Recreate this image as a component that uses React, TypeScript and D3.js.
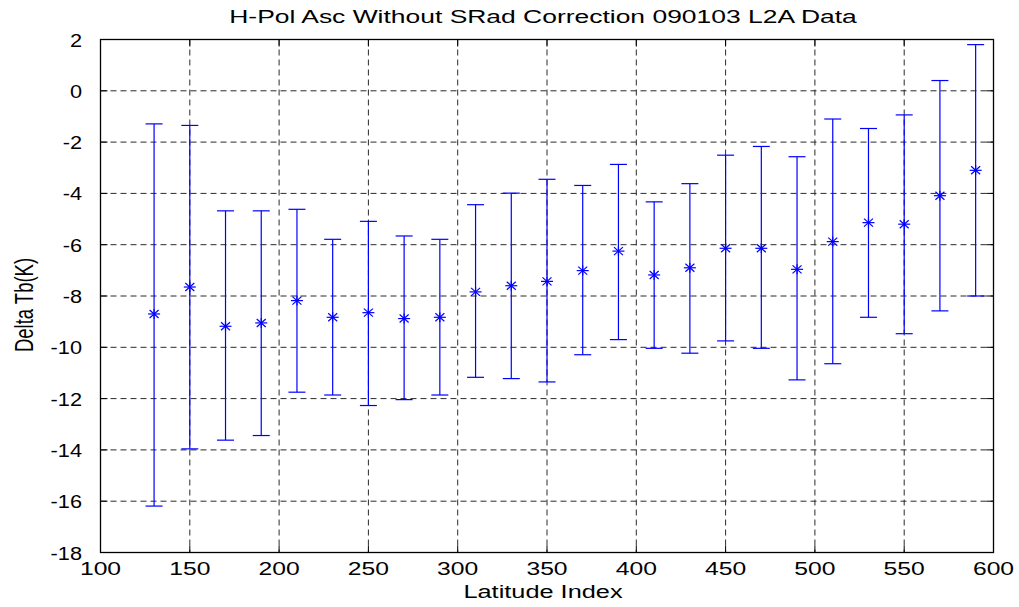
import React from "react";
import * as d3 from "d3";

const latIndex = [130, 150, 170, 190, 210, 230, 250, 270, 290, 310, 330, 350, 370, 390, 410, 430, 450, 470, 490, 510, 530, 550, 570, 590];
const meanVals = [-8.7, -7.65, -9.18, -9.05, -8.18, -8.83, -8.65, -8.88, -8.83, -7.84, -7.6, -7.43, -7.01, -6.25, -7.18, -6.9, -6.14, -6.14, -6.96, -5.88, -5.14, -5.2, -4.09, -3.1];
const upperVals = [-1.29, -1.35, -4.68, -4.68, -4.62, -5.79, -5.09, -5.66, -5.79, -4.44, -3.99, -3.45, -3.69, -2.87, -4.33, -3.62, -2.51, -2.17, -2.57, -1.1, -1.47, -0.94, 0.4, 1.8];
const lowerVals = [-16.19, -13.96, -13.62, -13.44, -11.75, -11.86, -12.27, -12.04, -11.86, -11.17, -11.22, -11.35, -10.29, -9.7, -10.04, -10.23, -9.75, -10.04, -11.27, -10.64, -8.83, -9.47, -8.58, -8.0];
const xTicks = [100, 150, 200, 250, 300, 350, 400, 450, 500, 550, 600];
const yTicks = [2, 0, -2, -4, -6, -8, -10, -12, -14, -16, -18];

const W = 1019, H = 607;
const left = 100.5, right = 993.5, top = 39.5, bottom = 552.5;
const FONT = "'Liberation Sans', Arial, sans-serif";
const FS = 19;
const SX = 1.3;

export default function App() {
  const x = d3.scaleLinear().domain([100, 600]).range([left, right]);
  const y = d3.scaleLinear().domain([-18, 2]).range([bottom, top]);
  const cap = 8.5;
  const blue = "#0000ff";
  const tl = 7;

  return (
    <svg width={W} height={H} style={{ position: "absolute", left: 0, top: 0, background: "#fff" }}>
      <rect x={0} y={0} width={W} height={H} fill="#fff" />
      {/* grid */}
      <g stroke="#2a2a2a" strokeWidth={1} strokeDasharray="6,4" fill="none">
        {xTicks.slice(1, -1).map((t) => (
          <line key={"gx" + t} x1={x(t)} x2={x(t)} y1={top} y2={bottom} />
        ))}
        {yTicks.slice(1, -1).map((t) => (
          <line key={"gy" + t} x1={left} x2={right} y1={y(t)} y2={y(t)} />
        ))}
      </g>
      {/* ticks */}
      <g stroke="#000" strokeWidth={1}>
        {xTicks.map((t) => (
          <g key={"tx" + t}>
            <line x1={x(t)} x2={x(t)} y1={bottom} y2={bottom - tl} />
            <line x1={x(t)} x2={x(t)} y1={top} y2={top + tl} />
          </g>
        ))}
        {yTicks.map((t) => (
          <g key={"ty" + t}>
            <line x1={left} x2={left + tl} y1={y(t)} y2={y(t)} />
            <line x1={right} x2={right - tl} y1={y(t)} y2={y(t)} />
          </g>
        ))}
      </g>
      {/* error bars */}
      <g stroke={blue} strokeWidth={1.2} fill="none">
        {latIndex.map((li, i) => {
          const cx = x(li);
          const yu = y(upperVals[i]);
          const yl = y(lowerVals[i]);
          const ym = y(meanVals[i]);
          return (
            <g key={"eb" + li}>
              <line x1={cx} x2={cx} y1={yu} y2={yl} />
              <line x1={cx - cap} x2={cx + cap} y1={yu} y2={yu} />
              <line x1={cx - cap} x2={cx + cap} y1={yl} y2={yl} />
              <line x1={cx - 6} x2={cx + 6} y1={ym} y2={ym} />
              <line x1={cx - 4.5} x2={cx + 4.5} y1={ym - 4} y2={ym + 4} />
              <line x1={cx - 4.5} x2={cx + 4.5} y1={ym + 4} y2={ym - 4} />
              <line x1={cx} x2={cx} y1={ym - 5} y2={ym + 5} />
            </g>
          );
        })}
      </g>
      {/* axis box */}
      <rect x={left} y={top} width={right - left} height={bottom - top} fill="none" stroke="#000" strokeWidth={1.3} />
      {/* tick labels */}
      <g fontFamily={FONT} fontSize={FS} fill="#000">
        {xTicks.map((t) => (
          <text key={"lx" + t} transform={`translate(${x(t)},${575}) scale(${SX},1)`} textAnchor="middle">
            {t}
          </text>
        ))}
        {yTicks.map((t) => (
          <text key={"ly" + t} transform={`translate(${82},${y(t) + 7}) scale(${SX * 0.88},1)`} textAnchor="end">
            {t}
          </text>
        ))}
      </g>
      {/* title */}
      <text transform={`translate(${543},${23}) scale(1.43,1)`} textAnchor="middle" fontFamily={FONT} fontSize={18.5}>
        H-Pol Asc Without SRad Correction 090103 L2A Data
      </text>
      {/* x label */}
      <text transform={`translate(${543},${598}) scale(1.37,1)`} textAnchor="middle" fontFamily={FONT} fontSize={18.5}>
        Latitude Index
      </text>
      {/* y label */}
      <text transform={`translate(${33},${305}) scale(1.35,1) rotate(-90)`} textAnchor="middle" fontFamily={FONT} fontSize={18.5}>
        Delta Tb(K)
      </text>
    </svg>
  );
}
